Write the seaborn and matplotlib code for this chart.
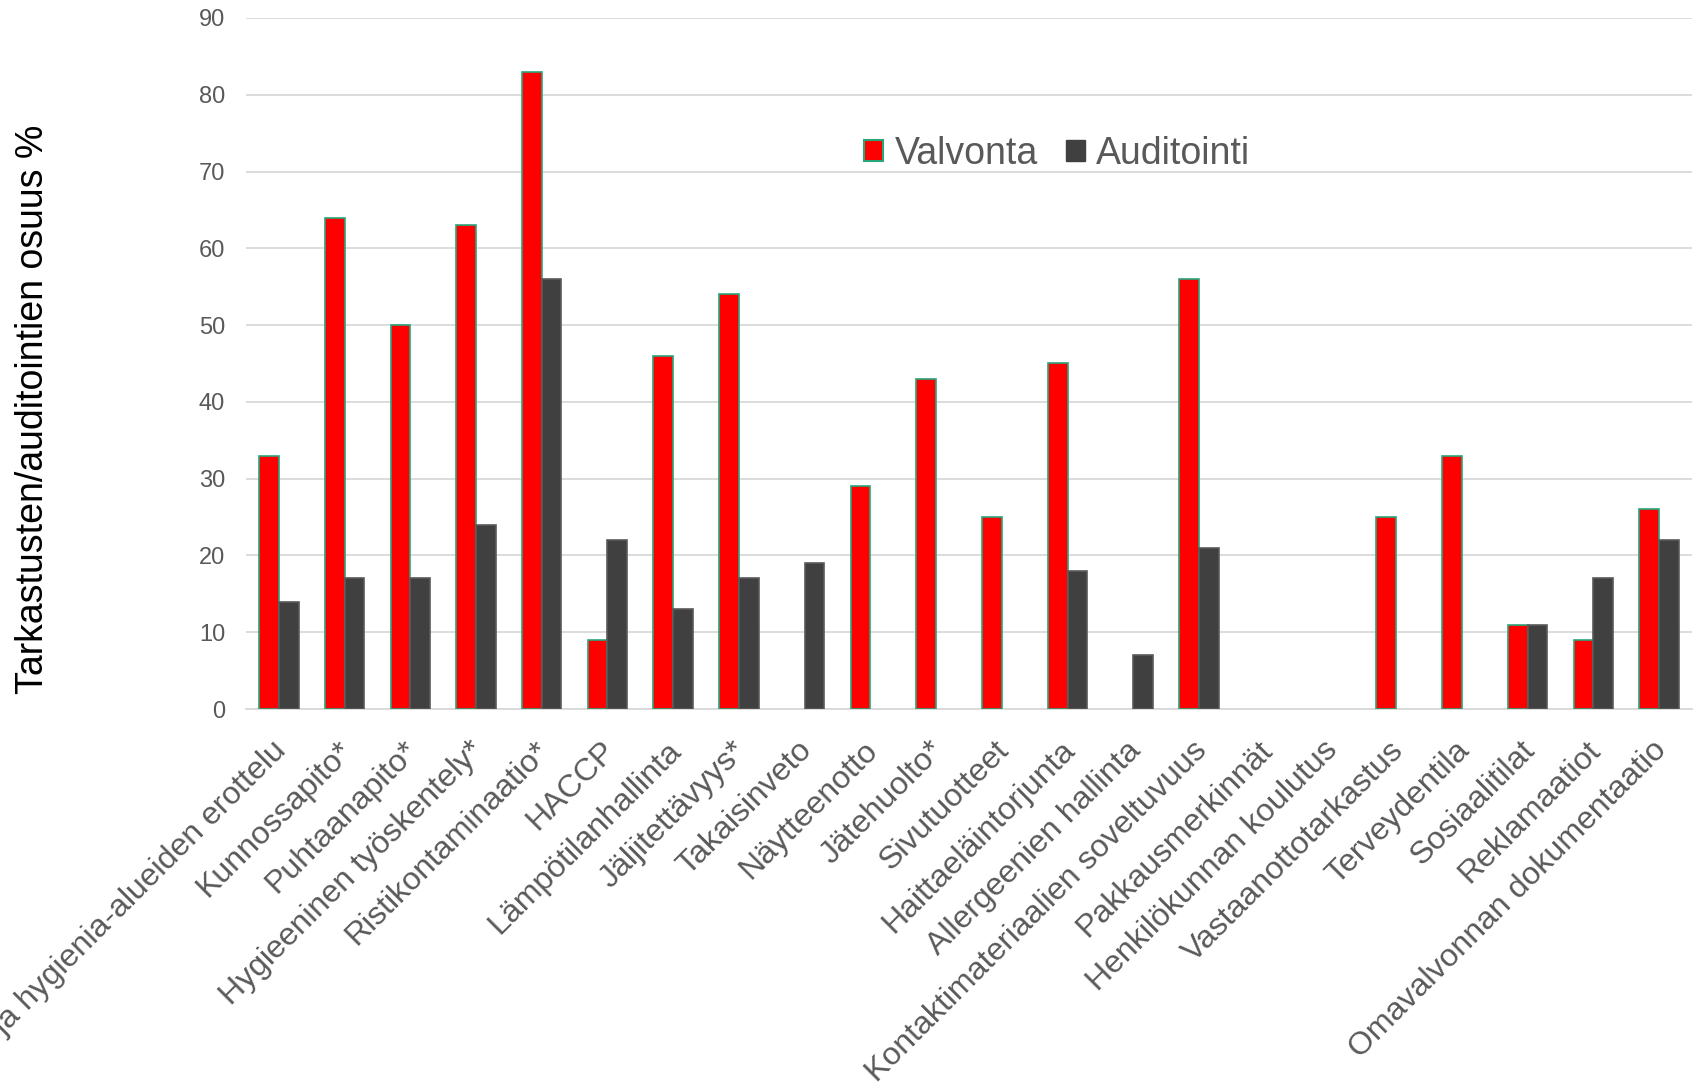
import matplotlib
matplotlib.use("Agg")
import matplotlib.pyplot as plt
import matplotlib.transforms as mtrans
import seaborn as sns
import pandas as pd
import numpy as np
from matplotlib.patches import Patch

categories = [
    "Puhtaus- ja hygienia-alueiden erottelu", "Kunnossapito*", "Puhtaanapito*",
    "Hygieeninen työskentely*", "Ristikontaminaatio*", "HACCP",
    "Lämpötilanhallinta", "Jäljitettävyys*", "Takaisinveto", "Näytteenotto",
    "Jätehuolto*", "Sivutuotteet", "Haittaeläintorjunta", "Allergeenien hallinta",
    "Kontaktimateriaalien soveltuvuus", "Pakkausmerkinnät", "Henkilökunnan koulutus",
    "Vastaanottotarkastus", "Terveydentila", "Sosiaalitilat", "Reklamaatiot",
    "Omavalvonnan dokumentaatio",
]
valvonta = [33, 64, 50, 63, 83, 9, 46, 54, 0, 29, 43, 25, 45, 0, 56, 0, 0, 25, 33, 11, 9, 26]
auditointi = [14, 17, 17, 24, 56, 22, 13, 17, 19, 0, 0, 0, 18, 7, 21, 0, 0, 0, 0, 11, 17, 22]
series = ["Valvonta", "Auditointi"]
yticks = list(range(0, 91, 10))

df = pd.DataFrame({
    "kategoria": categories * 2,
    "sarja": ["Valvonta"] * len(categories) + ["Auditointi"] * len(categories),
    "arvo": valvonta + auditointi,
})
df = df[df["arvo"] > 0]

sns.set_theme(style="white")
plt.rcParams["font.family"] = ["Liberation Sans", "DejaVu Sans"]

fig = plt.figure(figsize=(16.94, 10.82), dpi=100)
ax = fig.add_axes([0.1452, 0.3447, 0.8536, 0.6387])

palette = {"Valvonta": "#ff0000", "Auditointi": "#404040"}
sns.barplot(data=df, x="kategoria", y="arvo", hue="sarja", order=categories,
            hue_order=series, palette=palette, width=0.6, saturation=1,
            ax=ax, legend=False, zorder=3)

for bar_container, edge in zip(ax.containers, ["#2aa57a", "#5a5a5a"]):
    for p in bar_container:
        p.set_edgecolor(edge)
        p.set_linewidth(1.2)

ax.set_xlim(-0.5, len(categories) - 0.5)
ax.set_ylim(0, 90)
ax.set_yticks(yticks)
ax.grid(axis="y", color="#d9d9d9", linewidth=1.3, zorder=0)
ax.set_axisbelow(True)
for s in ["left", "right", "top"]:
    ax.spines[s].set_visible(False)
ax.spines["bottom"].set_color("#d9d9d9")
ax.spines["bottom"].set_linewidth(1.3)
ax.tick_params(axis="both", length=0, colors="#595959")
ax.tick_params(axis="y", labelsize=17, pad=15)
ax.tick_params(axis="x", labelsize=23, pad=19)
ax.set_xticks(range(len(categories)))
ax.set_xticklabels(categories, rotation=45, ha="right", rotation_mode="anchor")
offset = mtrans.ScaledTranslation(-0.075, 0, fig.dpi_scale_trans)
for lbl in ax.get_xticklabels():
    lbl.set_transform(lbl.get_transform() + offset)
ax.set_xlabel("")
ax.set_ylabel("")

fig.text(0.0195, 0.622, "Tarkastusten/auditointien osuus %", rotation=90,
         ha="center", va="center", fontsize=27, color="#000000")

handles = [Patch(facecolor="#ff0000", edgecolor="#2aa57a", linewidth=1.5, label="Valvonta"),
           Patch(facecolor="#404040", edgecolor="#404040", label="Auditointi")]
leg = ax.legend(handles=handles, loc="center", bbox_to_anchor=(0.561, 0.803), ncol=2,
                frameon=False, fontsize=27, handlelength=0.5, handleheight=0.5,
                handletextpad=0.3, columnspacing=0.75, labelcolor="#595959")

fig.savefig("out.png", dpi=100)
